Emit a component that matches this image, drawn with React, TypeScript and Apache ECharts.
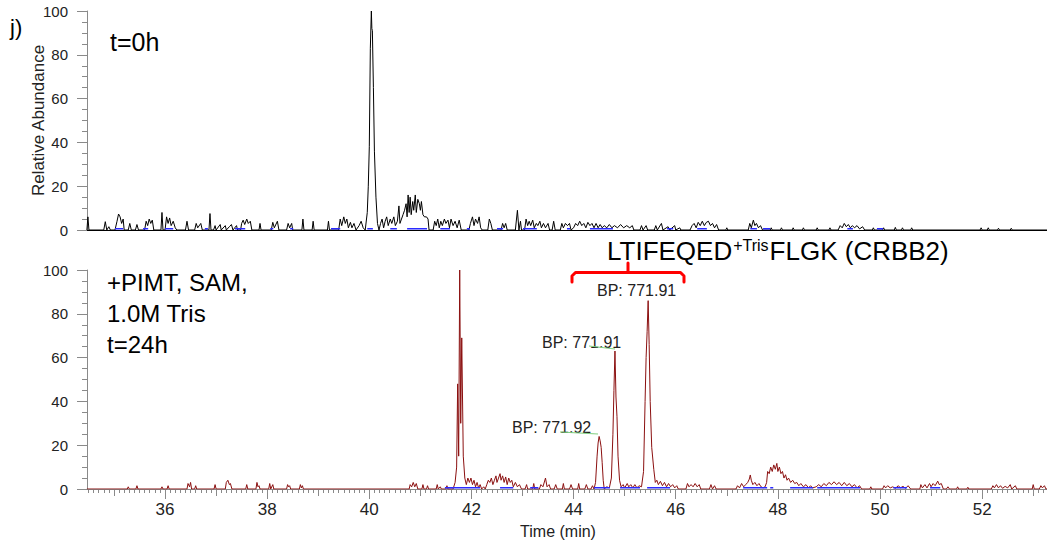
import React, { useEffect, useRef } from "react";
import * as echarts from "echarts";

// ---- Data ----
const xMin = 34.472;
const xMax = 53.27;
const xLabelValues = [36, 38, 40, 42, 44, 46, 48, 50, 52];
const xMidTickValues = [35, 37, 39, 41, 43, 45, 47, 49, 51, 53];

// t=0h trace [time (min), relative abundance]
const topTrace: number[][] = [
  [34.47, 0], [34.49, 6], [34.51, 0],
  [34.8, 0], [34.83, 3.8], [34.86, 0], [34.9, 1.5], [34.93, 0],
  [35.02, 0], [35.06, 4], [35.09, 7.3], [35.12, 6], [35.15, 3], [35.18, 5], [35.2, 0],
  [35.28, 0], [35.31, 3], [35.34, 0], [35.42, 0], [35.45, 2.5], [35.48, 0],
  [35.6, 0], [35.63, 4], [35.66, 2], [35.69, 5], [35.72, 3], [35.75, 4.5], [35.78, 0],
  [35.92, 0], [35.94, 8], [35.96, 0], [36.0, 0], [36.03, 6], [36.06, 3], [36.09, 5.5], [36.12, 2], [36.16, 4], [36.2, 1], [36.23, 0],
  [36.4, 0], [36.43, 4], [36.46, 0], [36.58, 0], [36.61, 3], [36.64, 1], [36.7, 3], [36.73, 0],
  [36.86, 0], [36.88, 7.5], [36.9, 0], [36.95, 0], [36.98, 2], [37.0, 0], [37.08, 2.5], [37.1, 0], [37.18, 2], [37.2, 0],
  [37.26, 1.5], [37.3, 2.5], [37.33, 0], [37.4, 2], [37.42, 0],
  [37.48, 0], [37.5, 3], [37.53, 4.5], [37.56, 2.5], [37.6, 5], [37.63, 3], [37.67, 4], [37.7, 0],
  [37.84, 0], [37.86, 3], [37.88, 0], [38.08, 0], [38.11, 3.5], [38.14, 1], [38.2, 4], [38.23, 0],
  [38.38, 0], [38.41, 3], [38.44, 1], [38.48, 3], [38.5, 0], [38.68, 0], [38.7, 5], [38.72, 0], [38.88, 0], [38.9, 4], [38.92, 0],
  [39.18, 0], [39.2, 4], [39.22, 0], [39.4, 0], [39.43, 5], [39.46, 2], [39.5, 6], [39.53, 3], [39.56, 5], [39.59, 1],
  [39.63, 3.5], [39.66, 1], [39.7, 3], [39.74, 0], [39.8, 2], [39.84, 4], [39.88, 1],
  [39.92, 0], [39.96, 8], [39.98, 20], [40.0, 38], [40.02, 83], [40.04, 100], [40.05, 92], [40.06, 91], [40.08, 65],
  [40.1, 36], [40.13, 15], [40.16, 3], [40.19, 0],
  [40.22, 3], [40.25, 5], [40.28, 1], [40.31, 4], [40.34, 6], [40.37, 2], [40.41, 5], [40.44, 3], [40.48, 6], [40.51, 2],
  [40.55, 4], [40.58, 11], [40.6, 3], [40.63, 5], [40.66, 7], [40.69, 9], [40.72, 12], [40.74, 6], [40.76, 16], [40.78, 8],
  [40.8, 15], [40.82, 7], [40.85, 13], [40.87, 9], [40.9, 16], [40.92, 8], [40.95, 14], [40.98, 12], [41.0, 9], [41.02, 13],
  [41.05, 7], [41.08, 6], [41.12, 6], [41.15, 5], [41.17, 0],
  [41.25, 0], [41.28, 4], [41.31, 2], [41.34, 5], [41.37, 1], [41.4, 4], [41.43, 2], [41.47, 5], [41.5, 3], [41.54, 4.5],
  [41.57, 1], [41.6, 5], [41.64, 2], [41.68, 4], [41.72, 1], [41.76, 4.5], [41.8, 0],
  [41.95, 0], [41.98, 3], [42.02, 6], [42.05, 2], [42.08, 5], [42.12, 3], [42.15, 6], [42.18, 1], [42.21, 0],
  [42.32, 0], [42.35, 5], [42.38, 3], [42.41, 0], [42.58, 0], [42.61, 3], [42.64, 1], [42.67, 3], [42.7, 0],
  [42.86, 0], [42.9, 9], [42.93, 0], [42.96, 4], [42.98, 0],
  [43.04, 0], [43.07, 5], [43.1, 2], [43.13, 4], [43.16, 2], [43.2, 4.5], [43.23, 1], [43.27, 3], [43.3, 2], [43.34, 4],
  [43.37, 1], [43.41, 3], [43.45, 1], [43.5, 3], [43.53, 0],
  [43.58, 0], [43.61, 4], [43.64, 0], [43.74, 0], [43.77, 3], [43.8, 1], [43.84, 3], [43.88, 2], [43.92, 3], [43.95, 0],
  [44.0, 1], [44.04, 3], [44.08, 2], [44.12, 4], [44.16, 2], [44.2, 3], [44.24, 1], [44.28, 3.5], [44.32, 2], [44.36, 3],
  [44.4, 1], [44.44, 3], [44.48, 1], [44.52, 2.5], [44.56, 1], [44.6, 2], [44.65, 1], [44.7, 2.5], [44.75, 1], [44.8, 2],
  [44.86, 1], [44.92, 2.5], [44.98, 1], [45.04, 2], [45.1, 1], [45.15, 2], [45.18, 0],
  [45.3, 0], [45.33, 2], [45.36, 0], [45.42, 2], [45.45, 0],
  [45.58, 0], [45.61, 2], [45.64, 0], [45.72, 3], [45.75, 0], [45.85, 1.5], [45.88, 0], [45.98, 2], [46.0, 0], [46.08, 1], [46.1, 0],
  [46.28, 0], [46.32, 2], [46.36, 3], [46.4, 1], [46.44, 3.5], [46.48, 2], [46.52, 4], [46.56, 2], [46.6, 3.5], [46.64, 4],
  [46.68, 2], [46.72, 3], [46.76, 1], [46.8, 2.5], [46.84, 0],
  [46.98, 0], [47.0, 1], [47.02, 0],
  [47.42, 0], [47.45, 3], [47.48, 1], [47.52, 4.5], [47.55, 2], [47.58, 3], [47.62, 1], [47.66, 2], [47.7, 0],
  [47.85, 0], [47.87, 1], [47.89, 0], [48.05, 0], [48.07, 1], [48.09, 0], [48.28, 0], [48.3, 1], [48.32, 0],
  [48.48, 0], [48.5, 1], [48.52, 0], [48.75, 0], [48.77, 1], [48.79, 0], [49.0, 0], [49.02, 1], [49.04, 0],
  [49.18, 0], [49.22, 2], [49.26, 1], [49.3, 3], [49.34, 1.5], [49.38, 2.5], [49.42, 1], [49.46, 2], [49.5, 1], [49.55, 2],
  [49.6, 0.5], [49.66, 1.5], [49.7, 0],
  [49.85, 0], [49.87, 1], [49.89, 0], [50.05, 0], [50.07, 1], [50.09, 0], [50.28, 0], [50.3, 1.2], [50.32, 0],
  [50.42, 0], [50.44, 1], [50.46, 0], [50.6, 0], [50.62, 1], [50.64, 0],
  [51.96, 0], [51.98, 1], [52.0, 0], [52.1, 0], [52.12, 1], [52.14, 0], [52.3, 0], [52.32, 0.8], [52.34, 0],
  [52.55, 0], [52.57, 0.8], [52.59, 0], [53.27, 0],
];

// +PIMT, SAM, 1.0M Tris, t=24h trace
const bottomTrace: number[][] = [
  [34.47, 0], [35.26, 0], [35.28, 1], [35.3, 0], [35.43, 0], [35.45, 1.5], [35.47, 0], [35.92, 0], [35.94, 1], [35.96, 0],
  [36.04, 0], [36.06, 1.5], [36.08, 0], [36.43, 0], [36.45, 2.5], [36.48, 1], [36.5, 3], [36.52, 0], [36.58, 0], [36.6, 1.5],
  [36.62, 0], [36.96, 0], [36.98, 2], [37.0, 0], [37.18, 0], [37.2, 3], [37.23, 4], [37.26, 2], [37.28, 2.5], [37.31, 0],
  [37.58, 0], [37.6, 2], [37.62, 0], [37.78, 0], [37.8, 3], [37.82, 1], [37.84, 1.5], [37.86, 0], [38.03, 0], [38.05, 2.5],
  [38.07, 0], [38.11, 2], [38.13, 0], [38.38, 0], [38.4, 2], [38.42, 1], [38.44, 1.5], [38.46, 0], [38.63, 0], [38.65, 2],
  [38.67, 0.5], [38.69, 1.5], [38.71, 0],
  [40.78, 0], [40.8, 2], [40.83, 1], [40.86, 3], [40.89, 1], [40.92, 2.5], [40.95, 0], [41.03, 0], [41.05, 2], [41.07, 0],
  [41.12, 0], [41.14, 1.5], [41.16, 0], [41.31, 0], [41.33, 2], [41.35, 0], [41.39, 1], [41.41, 0], [41.5, 0], [41.52, 1.5], [41.54, 0],
  [41.64, 0], [41.68, 3], [41.71, 10], [41.73, 48], [41.75, 15], [41.77, 100], [41.79, 30], [41.81, 69], [41.84, 15],
  [41.87, 5], [41.9, 2], [41.93, 5], [41.96, 3], [41.99, 5], [42.02, 2], [42.05, 4], [42.08, 1], [42.11, 3], [42.14, 0.5],
  [42.17, 2], [42.2, 0], [42.24, 1], [42.27, 0],
  [42.3, 2], [42.33, 4], [42.36, 3], [42.39, 5], [42.42, 2], [42.45, 4], [42.48, 6], [42.5, 3], [42.53, 5], [42.56, 7],
  [42.58, 4], [42.61, 6], [42.64, 3], [42.67, 5.5], [42.7, 2], [42.73, 5], [42.76, 3], [42.79, 4], [42.82, 1], [42.86, 3],
  [42.9, 1], [42.94, 2], [42.98, 0],
  [43.05, 0], [43.08, 2], [43.1, 0], [43.2, 0], [43.22, 2.5], [43.24, 0], [43.33, 0], [43.36, 2], [43.4, 1], [43.45, 5],
  [43.48, 1], [43.52, 2], [43.55, 0], [43.62, 0], [43.65, 2], [43.68, 0], [43.78, 0], [43.8, 2.5], [43.82, 0], [43.92, 0],
  [43.95, 2], [43.98, 0], [44.08, 0], [44.1, 2.5], [44.12, 0], [44.22, 0], [44.25, 2], [44.28, 0], [44.34, 0], [44.37, 1.5], [44.4, 0],
  [44.43, 3], [44.46, 15], [44.48, 21], [44.5, 24], [44.52, 22], [44.54, 19], [44.56, 12], [44.58, 4], [44.6, 0], [44.65, 1], [44.7, 0.5],
  [44.74, 5], [44.77, 25], [44.79, 45], [44.81, 63], [44.83, 42], [44.85, 33], [44.87, 15], [44.9, 4], [44.93, 1],
  [44.97, 2], [45.0, 0.5], [45.05, 2.5], [45.08, 1], [45.12, 2], [45.16, 0.5], [45.2, 2], [45.24, 0.5], [45.28, 1.5], [45.33, 1],
  [45.37, 8], [45.4, 40], [45.42, 60], [45.44, 72], [45.46, 86], [45.48, 66], [45.5, 40], [45.53, 19], [45.57, 9], [45.6, 3],
  [45.63, 4], [45.66, 2], [45.7, 3.5], [45.74, 1.5], [45.78, 3], [45.82, 1], [45.86, 2.5], [45.9, 1], [45.94, 2], [45.98, 0.5],
  [46.02, 1.5], [46.05, 0],
  [46.2, 0], [46.23, 2.5], [46.26, 1], [46.3, 2], [46.34, 1], [46.38, 2.5], [46.42, 1], [46.46, 2], [46.49, 0],
  [46.66, 0], [46.69, 2], [46.72, 0], [46.76, 1.5], [46.79, 0],
  [47.18, 0], [47.21, 1.5], [47.25, 0.5], [47.29, 2.5], [47.33, 1], [47.37, 2], [47.41, 3], [47.44, 4.5], [47.46, 6.4],
  [47.48, 4], [47.51, 2], [47.55, 3], [47.59, 1.5], [47.63, 2.5], [47.67, 1], [47.71, 0.5], [47.75, 1], [47.78, 3], [47.8, 8],
  [47.83, 7], [47.86, 10], [47.89, 8], [47.92, 11], [47.95, 9], [47.98, 11.7], [48.0, 8], [48.03, 10], [48.06, 7], [48.09, 8],
  [48.12, 5], [48.15, 6.5], [48.18, 4], [48.21, 5], [48.25, 3], [48.29, 4], [48.33, 2.5], [48.37, 3], [48.41, 1.5], [48.45, 2.5],
  [48.5, 1], [48.55, 2], [48.6, 0.5], [48.64, 1.5], [48.68, 0.5],
  [48.75, 1], [48.8, 2], [48.85, 1], [48.9, 2.5], [48.95, 1.5], [49.0, 3], [49.05, 2], [49.1, 3.3], [49.15, 2], [49.2, 3],
  [49.25, 1.5], [49.3, 3], [49.35, 1.5], [49.4, 2.5], [49.45, 1], [49.5, 2], [49.55, 0.5], [49.6, 1.5], [49.64, 0],
  [49.8, 0], [49.82, 1], [49.84, 0], [50.05, 0], [50.08, 1.5], [50.11, 0.5], [50.15, 1.5], [50.2, 0.5], [50.25, 1], [50.3, 0.3],
  [50.36, 1.5], [50.4, 0.5], [50.45, 1.2], [50.5, 0.3], [50.55, 1.5], [50.6, 0],
  [50.78, 0], [50.8, 2], [50.83, 0.5], [50.88, 2], [50.92, 0.5], [50.97, 2.5], [51.0, 1], [51.04, 2.5], [51.08, 1.5], [51.13, 3.6],
  [51.16, 2], [51.2, 2.5], [51.24, 0],
  [51.3, 0], [51.33, 1], [51.36, 0], [51.5, 0], [51.52, 1], [51.54, 0], [51.7, 0], [51.72, 0.8], [51.74, 0],
  [52.18, 0], [52.21, 1.5], [52.24, 0.5], [52.28, 2], [52.32, 0.5], [52.36, 1.5], [52.4, 0.3], [52.45, 1.2], [52.5, 0.5],
  [52.55, 2], [52.58, 0], [52.65, 1.5], [52.68, 0],
  [52.98, 0], [53.0, 2], [53.02, 0], [53.12, 0], [53.15, 1.5], [53.18, 0.5], [53.22, 1.5], [53.25, 0], [53.27, 0],
];

// blue baseline segments [start, end] (min)
const topBlue: number[][] = [
  [35.02, 35.18], [35.57, 35.67], [36.0, 36.16], [36.78, 36.84], [37.37, 37.57], [38.06, 38.12], [38.45, 38.51],
  [39.25, 39.43], [39.96, 40.07], [40.41, 40.54], [40.74, 41.13], [41.39, 41.58], [41.91, 41.97], [42.5, 42.62],
  [43.01, 43.28], [43.87, 43.93], [44.32, 44.77], [45.83, 45.95], [46.42, 46.61], [47.46, 47.59], [47.71, 47.85],
  [49.36, 49.47], [49.94, 50.06],
];
const bottomBlue: number[][] = [
  [41.48, 42.17], [42.56, 42.82], [43.15, 43.31], [44.4, 44.71], [44.91, 45.3], [45.44, 45.89], [47.32, 47.79],
  [47.85, 47.91], [48.24, 48.69], [48.77, 49.61], [50.26, 50.53], [50.98, 51.18],
];

const FONT = "'Liberation Sans', Arial, sans-serif";
const AXIS_GREY = "#8a8a8a";

function segs(ranges: number[][]) {
  const out: any[] = [];
  ranges.forEach(([s, e]) => {
    out.push([s, 0.6], [e, 0.6], [e, "-"]);
  });
  return out;
}

export default function App() {
  const ref = useRef<HTMLDivElement>(null);
  useEffect(() => {
    if (!ref.current) return;
    const chart = echarts.init(ref.current, undefined, { renderer: "svg" });
    const minorTicks: number[] = [];
    for (let i = 345; i <= 532; i++) minorTicks.push(i / 10);

    const gridL = 87;
    const gridW = 960;
    const botTop = 270;
    const h = 219;
    const grids = [
      { left: gridL, top: 11, width: gridW, height: h },
      { left: gridL, top: botTop, width: gridW, height: h },
      { left: gridL, top: botTop, width: gridW, height: h },
      { left: gridL, top: botTop, width: gridW, height: h },
    ];
    const baseX = { type: "value", min: xMin, max: xMax, splitLine: { show: false } };
    const yBase = {
      type: "value", min: 0, max: 100, interval: 20,
      splitLine: { show: false },
      axisLine: { show: true, lineStyle: { color: AXIS_GREY, width: 1 } },
      axisTick: { show: true, length: 10, lineStyle: { color: AXIS_GREY } },
      minorTick: { show: true, splitNumber: 4, length: 5, lineStyle: { color: AXIS_GREY } },
      axisLabel: { color: "#222", fontSize: 15, margin: 19, fontFamily: FONT },
    };
    const option: any = {
      animation: false,
      textStyle: { fontFamily: FONT },
      grid: grids,
      xAxis: [
        {
          ...baseX, gridIndex: 0,
          axisLine: { show: true, onZero: false, lineStyle: { color: "#000", width: 1 } },
          axisTick: { show: false }, axisLabel: { show: false },
        },
        {
          ...baseX, gridIndex: 1,
          axisLine: { show: true, onZero: false, lineStyle: { color: AXIS_GREY, width: 1 } },
          axisTick: { show: true, length: 10, customValues: xLabelValues, lineStyle: { color: AXIS_GREY } },
          axisLabel: { show: true, customValues: xLabelValues, color: "#222", fontSize: 17, margin: 12, fontFamily: FONT },
          name: "Time (min)", nameLocation: "middle", nameGap: 34, nameMoveOverlap: false,
          nameTextStyle: { fontSize: 16, color: "#222", fontFamily: FONT, padding: [0, 18, 0, 0] },
        },
        {
          ...baseX, gridIndex: 2,
          axisLine: { show: false, onZero: false },
          axisTick: { show: true, length: 7, customValues: xMidTickValues, lineStyle: { color: AXIS_GREY } },
          axisLabel: { show: false },
        },
        {
          ...baseX, gridIndex: 3,
          axisLine: { show: false, onZero: false },
          axisTick: { show: true, length: 4, customValues: minorTicks, lineStyle: { color: AXIS_GREY } },
          axisLabel: { show: false },
        },
      ],
      yAxis: [
        {
          ...yBase, gridIndex: 0,
          name: "Relative Abundance", nameLocation: "middle", nameGap: 40, nameMoveOverlap: false,
          nameTextStyle: { fontSize: 17, color: "#222", fontFamily: FONT },
        },
        { ...yBase, gridIndex: 1 },
        { type: "value", min: 0, max: 100, gridIndex: 2, show: false },
        { type: "value", min: 0, max: 100, gridIndex: 3, show: false },
      ],
      series: [
        {
          type: "line", xAxisIndex: 0, yAxisIndex: 0, data: topTrace, symbol: "none",
          lineStyle: { color: "#000", width: 1 }, itemStyle: { color: "#000" },
        },
        {
          type: "line", xAxisIndex: 0, yAxisIndex: 0, data: segs(topBlue), symbol: "none", connectNulls: false,
          lineStyle: { color: "#2a2aff", width: 1.5 }, itemStyle: { color: "#2a2aff" },
        },
        {
          type: "line", xAxisIndex: 1, yAxisIndex: 1, data: bottomTrace, symbol: "none",
          lineStyle: { color: "#8b1010", width: 1 }, itemStyle: { color: "#8b1010" },
        },
        {
          type: "line", xAxisIndex: 1, yAxisIndex: 1, data: segs(bottomBlue), symbol: "none", connectNulls: false,
          lineStyle: { color: "#2a2aff", width: 1.5 }, itemStyle: { color: "#2a2aff" },
        },
      ],
      graphic: [
        { type: "text", left: 10, top: 16, style: { text: "j)", fontSize: 22, fill: "#000", fontFamily: FONT } },
        { type: "text", left: 110, top: 29, style: { text: "t=0h", fontSize: 25, fill: "#000", fontFamily: FONT } },
        {
          type: "text", left: 107, top: 267,
          style: { text: "+PIMT, SAM,\n1.0M Tris\nt=24h", fontSize: 24, lineHeight: 31, fill: "#000", fontFamily: FONT },
        },
        {
          type: "text", left: 607, top: 236,
          style: {
            text: "{m|LTIFEQED}{s|+Tris}{m|FLGK (CRBB2)}",
            rich: {
              m: { fontSize: 26, fill: "#000", fontFamily: FONT, lineHeight: 30 },
              s: { fontSize: 16, fill: "#000", fontFamily: FONT, verticalAlign: "top", lineHeight: 18, padding: [1, 1, 0, 1] },
            },
          },
        },
        {
          type: "polyline",
          shape: { points: [[572, 282], [572, 276], [575.5, 272.5], [680.5, 272.5], [684, 276], [684, 282]] },
          style: { stroke: "#ff0000", lineWidth: 3, fill: null, lineJoin: "round", lineCap: "round" },
        },
        {
          type: "line", shape: { x1: 628, y1: 272.5, x2: 628, y2: 263 },
          style: { stroke: "#ff0000", lineWidth: 3, lineCap: "round" },
        },
        { type: "text", left: 597, top: 282, style: { text: "BP: 771.91", fontSize: 16, fill: "#222", fontFamily: FONT } },
        { type: "text", left: 542, top: 334, style: { text: "BP: 771.91", fontSize: 16, fill: "#222", fontFamily: FONT } },
        { type: "text", left: 512, top: 419, style: { text: "BP: 771.92", fontSize: 16, fill: "#222", fontFamily: FONT } },
        { type: "line", shape: { x1: 589, y1: 346, x2: 615, y2: 349 }, style: { stroke: "#7fcf7f", lineWidth: 1 } },
        { type: "line", shape: { x1: 560, y1: 432, x2: 598, y2: 434 }, style: { stroke: "#7fcf7f", lineWidth: 1 } },
      ],
    };
    chart.setOption(option);
    return () => chart.dispose();
  }, []);
  return (
    <div
      ref={ref}
      style={{ position: "fixed", left: 0, top: 0, width: 1047, height: 543, background: "#fff" }}
    />
  );
}
